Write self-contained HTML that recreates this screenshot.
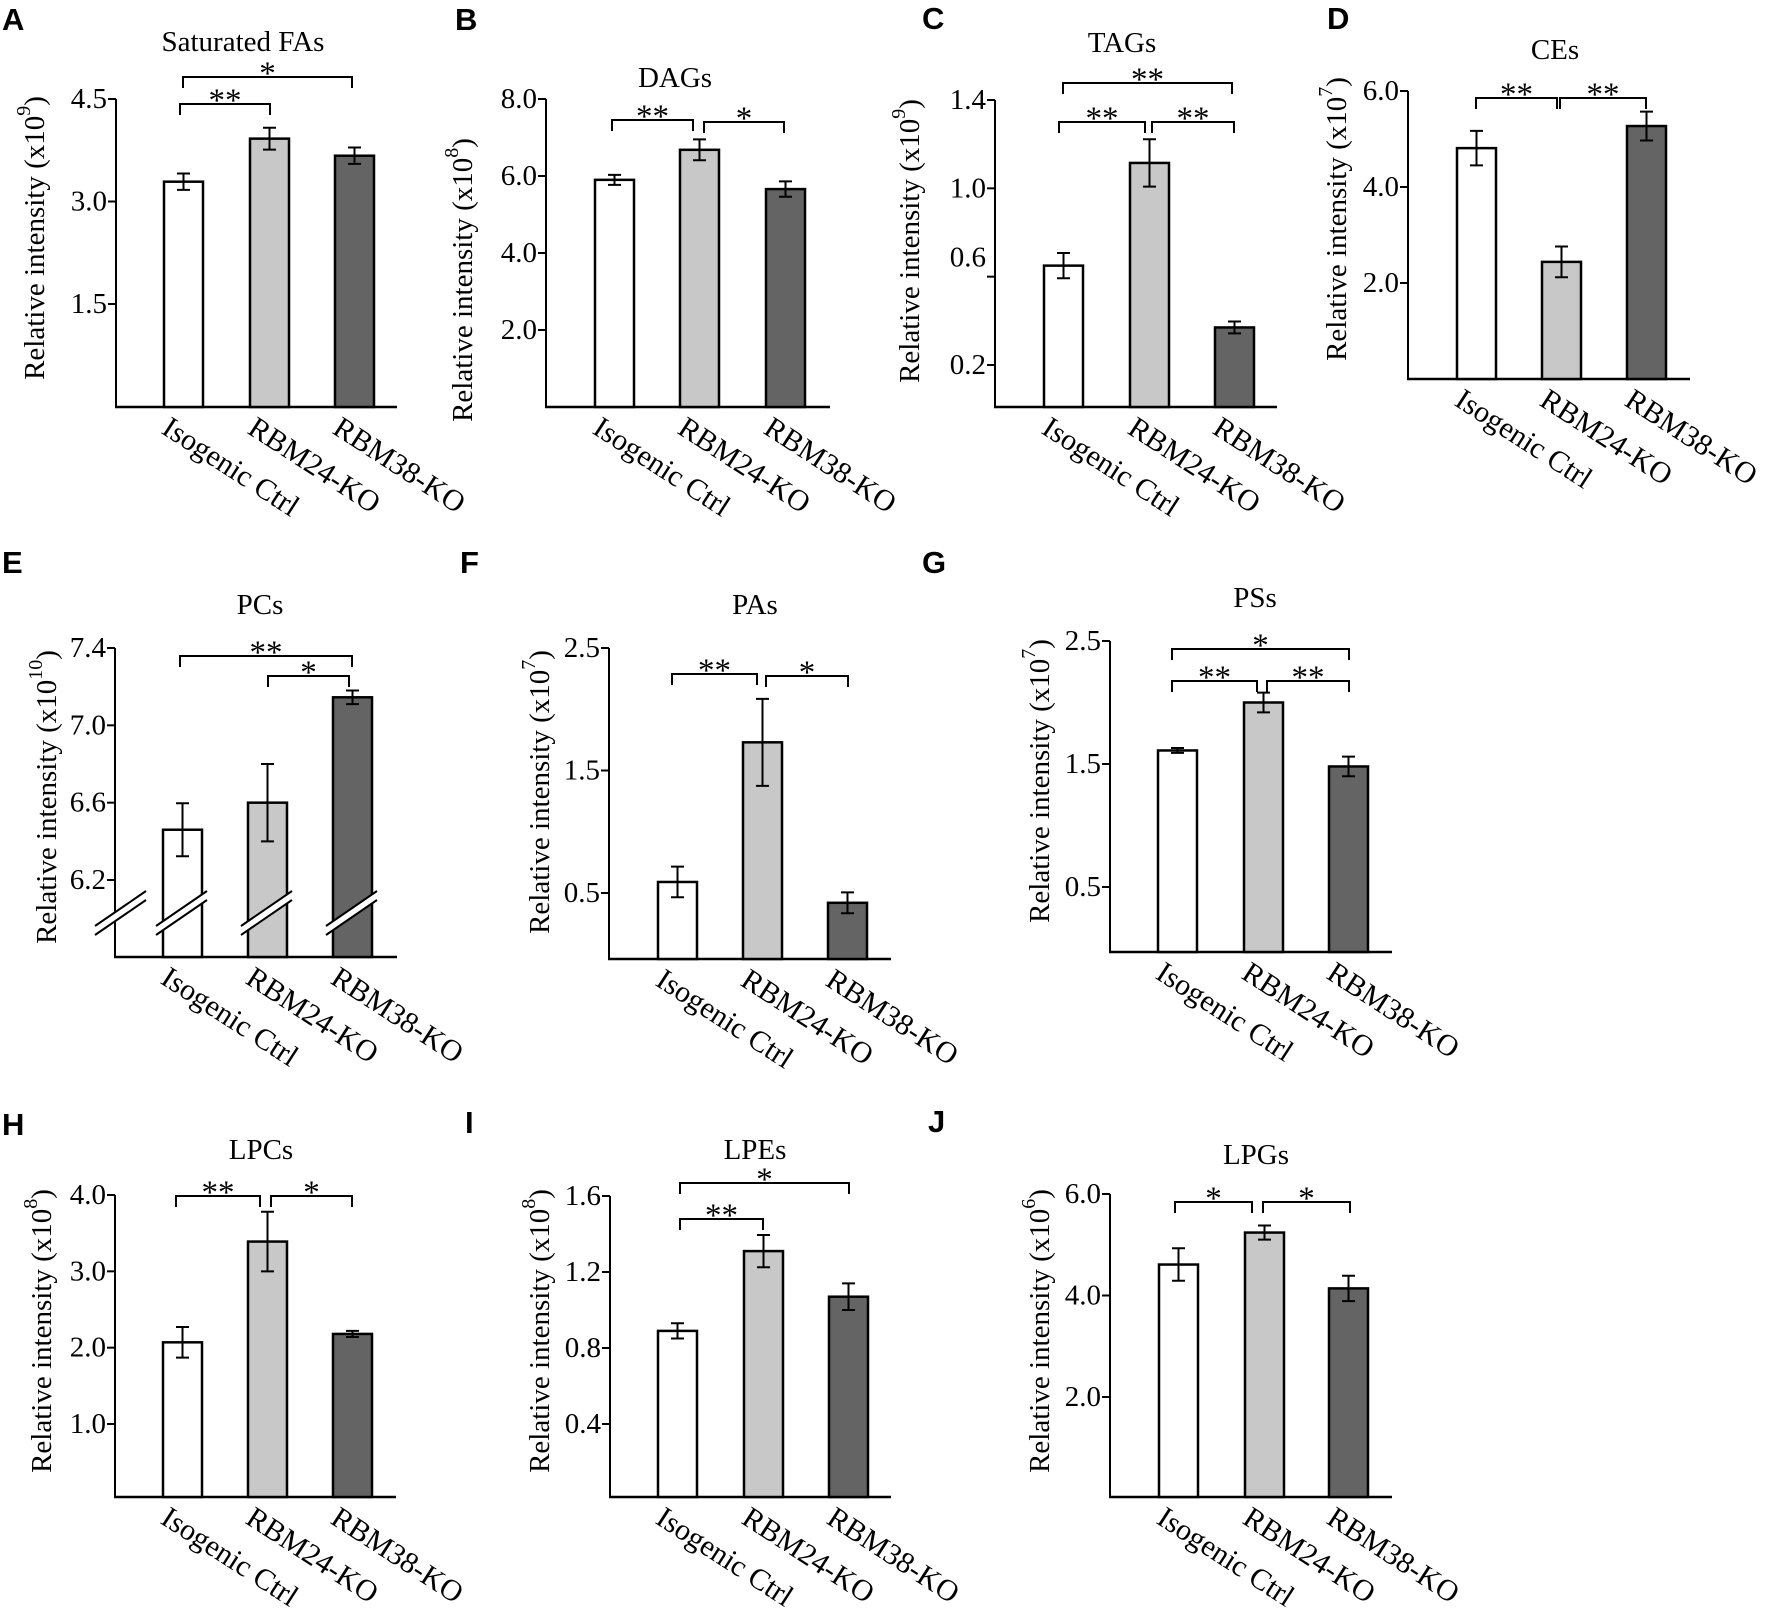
<!DOCTYPE html>
<html><head><meta charset="utf-8"><style>
html,body{margin:0;padding:0;background:#fff;}
svg{display:block;font-family:"Liberation Serif",serif;}
</style></head><body>
<svg id="fig" width="1772" height="1617" viewBox="0 0 1772 1617" xmlns="http://www.w3.org/2000/svg"></svg>
<script>
// ---- data ----
const categories = ["Isogenic Ctrl", "RBM24-KO", "RBM38-KO"];
const valuesA = [3.29, 3.92, 3.67]; const errorsA = [0.12, 0.16, 0.12]; const ticksA = ["1.5","3.0","4.5"];
const valuesB = [5.9, 6.68, 5.66]; const errorsB = [0.13, 0.27, 0.2]; const ticksB = ["2.0","4.0","6.0","8.0"];
const valuesC = [0.65, 1.115, 0.37]; const errorsC = [0.057, 0.107, 0.027]; const ticksC = ["0.2","0.6","1.0","1.4"];
const valuesD = [4.81, 2.44, 5.27]; const errorsD = [0.36, 0.32, 0.3]; const ticksD = ["2.0","4.0","6.0"];
const valuesE = [6.46, 6.6, 7.145]; const errorsE = [0.137, 0.2, 0.035]; const ticksE = ["6.2","6.6","7.0","7.4"];
const valuesF = [0.59, 1.73, 0.42]; const errorsF = [0.125, 0.355, 0.085]; const ticksF = ["0.5","1.5","2.5"];
const valuesG = [1.61, 2.0, 1.48]; const errorsG = [0.02, 0.08, 0.08]; const ticksG = ["0.5","1.5","2.5"];
const valuesH = [2.07, 3.39, 2.18]; const errorsH = [0.2, 0.39, 0.04]; const ticksH = ["1.0","2.0","3.0","4.0"];
const valuesI = [0.89, 1.31, 1.07]; const errorsI = [0.04, 0.085, 0.07]; const ticksI = ["0.4","0.8","1.2","1.6"];
const valuesJ = [4.61, 5.24, 4.14]; const errorsJ = [0.32, 0.14, 0.25]; const ticksJ = ["2.0","4.0","6.0"];

// ---- layout (pixel geometry) ----
const panels = [
 {L:"A",lx:2,ly:30,title:"Saturated FAs",tx:243,ty:42,exp:"9",ax:116,ae:397,base:407,c0:[1.5,304],c1:[4.5,99],bars:[164,250,335],vals:valuesA,errs:errorsA,ticks:ticksA,ytx:35,yty:238,
  sig:[[183,352,77,"*"],[180,270,104,"**"]]},
 {L:"B",lx:455,ly:30,title:"DAGs",tx:675,ty:78,exp:"8",ax:546,ae:830,base:407,c0:[2,330],c1:[8,99],bars:[595,680,766],vals:valuesB,errs:errorsB,ticks:ticksB,ytx:463,yty:280,
  sig:[[612,693,120,"**"],[704,784,122,"*"]]},
 {L:"C",lx:922,ly:29,title:"TAGs",tx:1122,ty:43,exp:"9",ax:995,ae:1277,base:407,c0:[0.2,365],c1:[1.4,100],bars:[1044,1130,1215],vals:valuesC,errs:errorsC,ticks:ticksC,ytx:910,yty:241,labOff:{"0.6":-19},
  sig:[[1063,1232,83,"**"],[1059,1145,122,"**"],[1152,1234,122,"**"]]},
 {L:"D",lx:1327,ly:29,title:"CEs",tx:1555,ty:50,exp:"7",ax:1408,ae:1690,base:379,c0:[2,283],c1:[6,91],bars:[1457,1542,1627],vals:valuesD,errs:errorsD,ticks:ticksD,ytx:1337,yty:219,
  sig:[[1476,1557,98,"**"],[1560,1646,98,"**"]]},
 {L:"E",lx:2,ly:573,title:"PCs",tx:260,ty:605,exp:"10",ax:115,ae:397,base:957,c0:[6.2,880],c1:[7.4,648],bars:[163,248,333],vals:valuesE,errs:errorsE,ticks:ticksE,ytx:47,yty:797,brk:true,
  sig:[[180,352,656,"**"],[268,349,676,"*"]]},
 {L:"F",lx:460,ly:573,title:"PAs",tx:755,ty:605,exp:"7",ax:609,ae:891,base:959,c0:[0.5,893],c1:[2.5,648],bars:[658,743,828],vals:valuesF,errs:errorsF,ticks:ticksF,ytx:540,yty:792,
  sig:[[672,757,674,"**"],[766,848,676,"*"]]},
 {L:"G",lx:922,ly:573,title:"PSs",tx:1255,ty:598,exp:"7",ax:1110,ae:1392,base:952,c0:[0.5,887],c1:[2.5,641],bars:[1158,1244,1329],vals:valuesG,errs:errorsG,ticks:ticksG,ytx:1040,yty:781,
  sig:[[1172,1349,649,"*"],[1172,1257,681,"**"],[1267,1349,681,"**"]]},
 {L:"H",lx:2,ly:1135,title:"LPCs",tx:261,ty:1150,exp:"8",ax:115,ae:396,base:1497,c0:[1,1424],c1:[4,1195],bars:[163,248,333],vals:valuesH,errs:errorsH,ticks:ticksH,ytx:42,yty:1331,
  sig:[[176,260,1196,"**"],[271,352,1196,"*"]]},
 {L:"I",lx:465,ly:1133,title:"LPEs",tx:755,ty:1150,exp:"8",ax:610,ae:891,base:1497,c0:[0.4,1424],c1:[1.6,1196],bars:[658,744,829],vals:valuesI,errs:errorsI,ticks:ticksI,ytx:540,yty:1331,
  sig:[[680,849,1183,"*"],[680,763,1219,"**"]]},
 {L:"J",lx:928,ly:1132,title:"LPGs",tx:1256,ty:1155,exp:"6",ax:1110,ae:1392,base:1497,c0:[2,1397],c1:[6,1194],bars:[1159,1245,1329],vals:valuesJ,errs:errorsJ,ticks:ticksJ,ytx:1040,yty:1331,
  sig:[[1175,1252,1202,"*"],[1263,1350,1202,"*"]]}
];
const fills = ["#ffffff", "#c8c8c8", "#646464"];
const BW = 39;
const NS = "http://www.w3.org/2000/svg";
const svg = document.getElementById("fig");
function mk(tag, attrs, parent){ const e=document.createElementNS(NS,tag); for(const k in attrs) e.setAttribute(k,attrs[k]); (parent||svg).appendChild(e); return e; }

panels.forEach(p=>{
  const g = mk("g",{});
  
  
  const yS = v => p.c0[1] + (v - p.c0[0]) * (p.c1[1]-p.c0[1])/(p.c1[0]-p.c0[0]);
  const lt = mk("text",{x:p.lx,y:p.ly,"font-family":"Liberation Sans, sans-serif","font-weight":"bold","font-size":31},g);
  lt.textContent = p.L;
  
  
  const tt = mk("text",{x:p.tx,y:p.ty,"text-anchor":"middle","dominant-baseline":"central","font-size":29},g);
  tt.textContent = p.title;
  
  
  const yt = mk("text",{x:0,y:0,"text-anchor":"middle","dominant-baseline":"central","font-size":29,transform:`translate(${p.ytx},${p.yty}) rotate(-90)`},g);
  
  
  const t1 = mk("tspan",{},yt); t1.textContent = "Relative intensity (x10";
  const t2 = mk("tspan",{dy:-11,"font-size":20},yt); t2.textContent = p.exp;
  const t3 = mk("tspan",{dy:11},yt); t3.textContent = ")";
  const topY = yS(parseFloat(p.ticks[p.ticks.length-1]));
  const ya = mk("line",{x1:p.ax,y1:topY,x2:p.ax,y2:p.base,stroke:"#000","stroke-width":2},g);
  
  
  const xa = mk("line",{x1:p.ax-1,y1:p.base,x2:p.ae,y2:p.base,stroke:"#000","stroke-width":2.5},g);
  
  
  p.ticks.forEach(t=>{
    const y = yS(parseFloat(t));
    mk("line",{x1:p.ax-8,y1:y,x2:p.ax,y2:y,stroke:"#000","stroke-width":2},g);
    const off = (p.labOff && p.labOff[t]) || 0;
    const tl = mk("text",{x:p.ax-9,y:y+off,"text-anchor":"end","dominant-baseline":"central","font-size":29},g);
    tl.textContent = t;
    
    
  });
  p.vals.forEach((v,i)=>{
    const x = p.bars[i], y = yS(v);
    const r = mk("rect",{x:x,y:y,width:BW,height:p.base-y,fill:fills[i],stroke:"#000","stroke-width":2.5},g);
    
    
    const cx = x+BW/2, e = p.errs[i];
    const ytop = yS(v+e), ybot = yS(v-e);
    const eb = mk("path",{d:`M${cx},${ytop}V${ybot}M${cx-6.5},${ytop}H${cx+6.5}M${cx-6.5},${ybot}H${cx+6.5}`,stroke:"#000","stroke-width":2,fill:"none"},g);
    
    
    const lx = cx-12, ly = p.base+8;
    const cl = mk("text",{x:lx,y:ly,"dominant-baseline":"hanging","font-size":30,transform:`rotate(33 ${lx} ${ly})`},g);
    cl.textContent = categories[i];
    
    
  });
  if(p.brk){
    const ranges = [[p.ax-20,p.ax+31]].concat(p.bars.map(b=>[b-7,b+BW+5]));
    ranges.forEach(([x0,x1])=>{
      const yb = 935, dy = 35, off = 9;
      mk("polygon",{points:`${x0},${yb-off} ${x1},${yb-off-dy} ${x1},${yb-dy} ${x0},${yb}`,fill:"#fff"},g);
      const b1 = mk("line",{x1:x0,y1:yb-off,x2:x1,y2:yb-off-dy,stroke:"#000","stroke-width":2},g);
      
      
      mk("line",{x1:x0,y1:yb,x2:x1,y2:yb-dy,stroke:"#000","stroke-width":2},g);
    });
  }
  p.sig.forEach(([x1,x2,y,lab])=>{
    const br = mk("path",{d:`M${x1},${y+11}V${y}H${x2}V${y+11}`,stroke:"#000","stroke-width":2,fill:"none"},g);
    
    
    const st = mk("text",{x:(x1+x2)/2,y:y+7,"text-anchor":"middle","font-size":33},g);
    st.textContent = lab;
    
    
  });
});
</script>
</body></html>
